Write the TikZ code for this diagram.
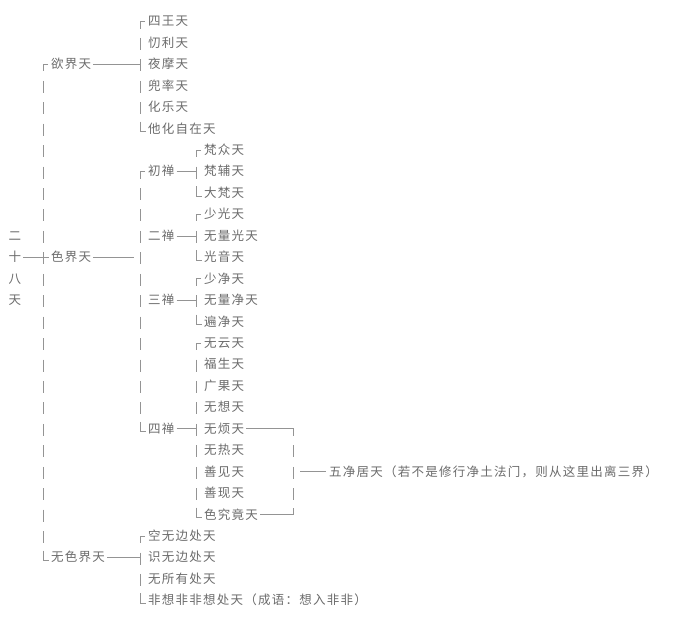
\documentclass[tikz,border=0pt]{standalone}
\usepackage{fontspec}
\usetikzlibrary{calc}
\newfontfamily\cjk{Noto Sans CJK SC}[LetterSpace=10]
\definecolor{txtgray}{gray}{0.42}
\definecolor{lingray}{gray}{0.58}
\tikzset{
  lbl/.style={anchor=west, inner sep=0pt, text=txtgray, text height=9.8pt, text depth=1pt, font=\cjk\fontsize{12.5pt}{14pt}\selectfont},
  bar/.style={draw=lingray, line width=0.8pt},
  dbar/.style={bar, dash pattern=on 12pt off 9.44pt, dash phase=5pt}
}
\begin{document}
\begin{tikzpicture}[x=1pt, y=-21.44pt] %rows of 21.44pt, y going down
\useasboundingbox (0,-1.003) rectangle (690,28.055);
	%Title, one character per row
\node[lbl, anchor=center] (er) at (15,10) {二};
\node[lbl, anchor=center] (shi) at (15,11) {十};
\node[lbl, anchor=center] (ba) at (15,12) {八};
\node[lbl, anchor=center] (tian) at (15,13) {天};
	%Three realms
\node[lbl] (yujie) at (51,2) {欲界天};
\node[lbl] (sejie) at (51,11) {色界天};
\node[lbl] (wusejie) at (51,25) {无色界天};
	%Desire realm
\node[lbl] (siwang) at (148,0) {四王天};
\node[lbl] (daoli) at (148,1) {忉利天};
\node[lbl] (yemo) at (148,2) {夜摩天};
\node[lbl] (doushuai) at (148,3) {兜率天};
\node[lbl] (huale) at (148,4) {化乐天};
\node[lbl] (tahua) at (148,5) {他化自在天};
	%Form realm, four dhyanas
\node[lbl] (chuchan) at (148,7) {初禅};
\node[lbl] (erchan) at (148,10) {二禅};
\node[lbl] (sanchan) at (148,13) {三禅};
\node[lbl] (sichan) at (148,19) {四禅};
\node[lbl] (fanzhong) at (204,6) {梵众天};
\node[lbl] (fanfu) at (204,7) {梵辅天};
\node[lbl] (dafan) at (204,8) {大梵天};
\node[lbl] (shaoguang) at (204,9) {少光天};
\node[lbl] (wuliangguang) at (204,10) {无量光天};
\node[lbl] (guangyin) at (204,11) {光音天};
\node[lbl] (shaojing) at (204,12) {少净天};
\node[lbl] (wuliangjing) at (204,13) {无量净天};
\node[lbl] (bianjing) at (204,14) {遍净天};
\node[lbl] (wuyun) at (204,15) {无云天};
\node[lbl] (fusheng) at (204,16) {福生天};
\node[lbl] (guangguo) at (204,17) {广果天};
\node[lbl] (wuxiang) at (204,18) {无想天};
\node[lbl] (wufan) at (204,19) {无烦天};
\node[lbl] (wure) at (204,20) {无热天};
\node[lbl] (shanjian) at (204,21) {善见天};
\node[lbl] (shanxian) at (204,22) {善现天};
\node[lbl] (sejiujing) at (204,23) {色究竟天};
\node[lbl] (wujingju) at (329,21) {五净居天（若不是修行净土法门，则从这里出离三界）};
	%Formless realm
\node[lbl] (kongwu) at (148,24) {空无边处天};
\node[lbl] (shiwu) at (148,25) {识无边处天};
\node[lbl] (wusuo) at (148,26) {无所有处天};
\node[lbl] (feixiang) at (148,27) {非想非非想处天（成语：想入非非）};
	%Brackets: corner, dashed bar, corner
\foreach \f/\l in {yujie/wusejie, siwang/tahua, chuchan/sichan, kongwu/feixiang, fanzhong/dafan, shaoguang/guangyin, shaojing/bianjing, wuyun/sejiujing}{
  \draw[bar] ([xshift=-3pt]\f.west) -- ([xshift=-8pt]\f.west) -- ([xshift=-8pt,yshift=-5pt]\f.west);
  \draw[dbar] ([xshift=-8pt]\f.west) -- ([xshift=-8pt]\l.west);
  \draw[bar] ([xshift=-8pt,yshift=7pt]\l.west) -- ([xshift=-8pt,yshift=-3pt]\l.west) -- ([xshift=-2pt,yshift=-3pt]\l.west);
}
	%Parent to bracket
\foreach \p/\c in {yujie/yemo, chuchan/fanfu, erchan/wuliangguang, sanchan/wuliangjing, sichan/wufan, wusejie/shiwu}
  \draw[bar] ([xshift=2pt]\p.east) -- ([xshift=-8pt]\c.west);
\draw[bar] ([xshift=2pt]sejie.east) -- ($(chuchan.west |- sejie.east)+(-14pt,0)$);
\draw[bar] ([xshift=2pt]shi.east) -- ([xshift=-2pt]sejie.west); %crossing the bar
	%Five pure abodes
\coordinate (wjtop) at (293,19);
\coordinate (wjbot) at (293,23);
\draw[bar] ([xshift=2pt]wufan.east) -| ([yshift=-5pt]wjtop);
\draw[dbar] (wjtop) -- (wjbot);
\draw[bar] ([xshift=2pt]sejiujing.east) -| ([yshift=7pt]wjbot);
\draw[bar] ($(wjtop |- wujingju.west)+(7pt,0)$) -- ([xshift=-3pt]wujingju.west);
\end{tikzpicture}
\end{document}
